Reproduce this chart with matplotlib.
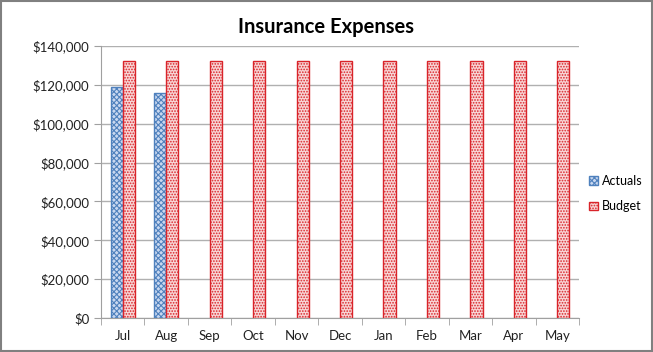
import matplotlib
matplotlib.use("Agg")
import matplotlib.pyplot as plt
import numpy as np
from matplotlib.ticker import FuncFormatter, MultipleLocator
from matplotlib.patches import Rectangle

plt.rcParams['font.family'] = ['Lato', 'DejaVu Sans']
plt.rcParams['hatch.linewidth'] = 0.8

months = ["Jul", "Aug", "Sep", "Oct", "Nov", "Dec", "Jan", "Feb", "Mar", "Apr", "May"]
actuals = [118800, 115700]
budget = [132300] * 11

fig = plt.figure(figsize=(6.53, 3.52), dpi=100)
ax = fig.add_axes([0.1547, 0.0966, 0.732, 0.7727])

x = np.arange(len(months))
w = 0.28
ax.bar(x[:len(actuals)] - w / 2, actuals, width=w, facecolor="#C9D8F0",
       edgecolor="#4F81BD", hatch="xxxxxx", linewidth=1.0, label="Actuals", zorder=3)
ax.bar(x + w / 2, budget, width=w, facecolor="#F8D6D6",
       edgecolor="#D9242A", hatch="......", linewidth=1.0, label="Budget", zorder=3)

ax.set_xlim(-0.5, len(months) - 0.5)
ax.set_ylim(0, 140000)
ax.yaxis.set_major_locator(MultipleLocator(20000))
ax.yaxis.set_major_formatter(FuncFormatter(lambda v, p: f"${v:,.0f}"))
ax.set_xticks(x)
ax.set_xticklabels(months)
ax.set_xticks(np.arange(-0.5, len(months)), minor=True)
ax.tick_params(axis="x", which="major", length=0, pad=9, labelsize=9.5)
ax.tick_params(axis="x", which="minor", length=5, color="#A0A0A0", direction="out")
ax.tick_params(axis="y", length=5, color="#A0A0A0", labelsize=9.5)
for lbl in ax.get_yticklabels() + ax.get_xticklabels():
    lbl.set_color("#222222")

ax.grid(axis="y", color="#B0B0B0", linewidth=1.0, zorder=0)
ax.set_axisbelow(True)
for s in ["top", "right"]:
    ax.spines[s].set_visible(False)
ax.spines["left"].set_color("#A0A0A0")
ax.spines["bottom"].set_color("#A0A0A0")

fig.text(0.5, 0.922, "Insurance Expenses", ha="center", va="center",
         fontsize=14.5, fontweight="bold", color="black")

leg = fig.legend(loc="center left", bbox_to_anchor=(0.885, 0.45), frameon=False,
                 fontsize=9, handlelength=0.7, handleheight=0.7, handletextpad=0.3,
                 labelspacing=1.1)

fig.patches.append(Rectangle((0.002, 0.004), 0.996, 0.992, transform=fig.transFigure,
                             fill=False, edgecolor="#808080", linewidth=1.5))

fig.savefig("out.png", dpi=100)
